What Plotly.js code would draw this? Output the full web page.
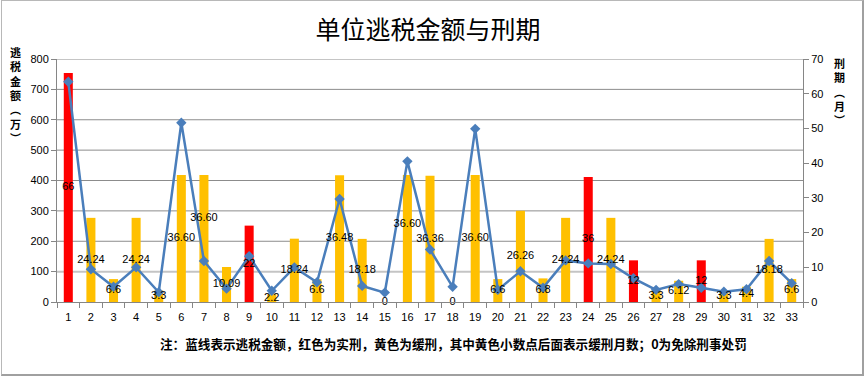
<!DOCTYPE html>
<html>
<head>
<meta charset="utf-8">
<script src="https://cdn.plot.ly/plotly-3.0.1.min.js"></script>
<style>
  html, body { margin: 0; padding: 0; background: #ffffff; }
  #wrap { position: relative; width: 865px; height: 379px; }
  #chart { width: 865px; height: 379px; }
  #frame { position: absolute; left: 1px; top: 0px; width: 860px; height: 373px;
           border-left: 1px solid #b8b8b8; border-top: 1px solid #b8b8b8;
           border-right: 2px solid #a0a0a0; border-bottom: 2px solid #a0a0a0; pointer-events: none; }
</style>
</head>
<body>
<div id="wrap">
  <div id="chart"></div>
  <div id="frame"></div>
</div>
<script>
// ---- data ----
const categories = ['1','2','3','4','5','6','7','8','9','10','11','12','13','14','15','16','17','18','19','20','21','22','23','24','25','26','27','28','29','30','31','32','33'];
// tax evasion amount (万) - blue line, left axis
const taxAmount = [725,108,50,114,32,590,135,44,151,37,114,65,339,53,31,463,173,50,570,40,101,47,137,127,125,78,40,59,47,34,42,135,62];
// sentence (months) - bars, right axis
const sentenceMonths = [66,24.24,6.6,24.24,3.3,36.60,36.60,10.09,22,2.2,18.24,6.6,36.48,18.18,0,36.60,36.36,0,36.60,6.6,26.26,6.8,24.24,36,24.24,12,3.3,6.12,12,3.3,4.4,18.18,6.6];
const sentenceLabels = ['66','24.24','6.6','24.24','3.3','36.60','36.60','10.09','22','2.2','18.24','6.6','36.48','18.18','0','36.60','36.36','0','36.60','6.6','26.26','6.8','24.24','36','24.24','12','3.3','6.12','12','3.3','4.4','18.18','6.6'];
// sentence type: 实 = actual prison (red), 缓 = suspended (yellow), 免 = exempted
const sentenceType = ['实','缓','缓','缓','缓','缓','缓','缓','实','缓','缓','缓','缓','缓','免','缓','缓','免','缓','缓','缓','缓','缓','实','缓','实','缓','缓','实','缓','缓','缓','缓'];
const leftTicks = [0,100,200,300,400,500,600,700,800];
const rightTicks = [0,10,20,30,40,50,60,70];

const typeColor = {'实':'#FF0000','缓':'#FFC000','免':'#FFC000'};

// ---- layout geometry ----
const W = 865, H = 379;
const ml = 57, mr = 62, mt = 59, mb = 77;
const pw = W - ml - mr, ph = H - mt - mb;
const px2x = px => (px - ml) / pw;
const py2y = py => 1 - (py - mt) / ph;
const rightMax = 70;
// label nudges (pixels upward) used in the reference to avoid overlapping labels
const labelNudgePx = {6: 20, 15: 14};

const bars = {
  type: 'bar', x: categories, y: sentenceMonths, yaxis: 'y', xaxis: 'x',
  marker: { color: sentenceType.map(t => typeColor[t]), line: { width: 0 } },
  width: 0.4, hoverinfo: 'skip', showlegend: false
};
const line = {
  type: 'scatter', mode: 'lines+markers', x: categories, y: taxAmount, yaxis: 'y2', xaxis: 'x',
  line: { color: '#4A7EBB', width: 2.5 },
  marker: { symbol: 'diamond', size: 8, color: '#4A7EBB' },
  hoverinfo: 'skip', showlegend: false
};
const labels = {
  type: 'scatter', mode: 'text', x: categories,
  y: sentenceMonths.map((v, i) => v / 2 + (labelNudgePx[i] || 0) * rightMax / ph),
  text: sentenceLabels, yaxis: 'y3', xaxis: 'x',
  textposition: 'middle center',
  textfont: { family: 'Liberation Sans, Arial, sans-serif', size: 11, color: '#000000' },
  hoverinfo: 'skip', showlegend: false, cliponaxis: false
};

const cjkBold = { family: 'Noto Sans CJK SC', size: 11, color: '#000000', weight: 'bold' };
const annotations = [
  { xref: 'paper', yref: 'paper', x: px2x(15), y: py2y(95), xanchor: 'center', yanchor: 'middle',
    showarrow: false, text: Array.from('逃税金额︵万︶').join('<br>'), font: cjkBold },
  { xref: 'paper', yref: 'paper', x: px2x(839), y: py2y(91), xanchor: 'center', yanchor: 'middle',
    showarrow: false, text: Array.from('刑期︵月︶').join('<br>'), font: cjkBold },
  { xref: 'paper', yref: 'paper', x: px2x(453), y: py2y(343), xanchor: 'center', yanchor: 'middle',
    showarrow: false, text: '注：蓝线表示逃税金额，红色为实刑，黄色为缓刑，其中黄色小数点后面表示缓刑月数；0为免除刑事处罚',
    font: { family: 'Noto Sans CJK SC', size: 12.6, color: '#000000', weight: 'bold' } }
];

const shapes = leftTicks.filter(v => v > 0).map(v => ({
  type: 'line', xref: 'paper', yref: 'y2', x0: 0, x1: 1, y0: v, y1: v, layer: 'below',
  line: { color: v === 100 ? '#c4c4c4' : '#8c8c8c', width: v === 100 ? 2 : 1 }
}));

const tickFont = { family: 'Liberation Sans, Arial, sans-serif', size: 11, color: '#000000' };
const layout = {
  width: W, height: H,
  margin: { l: ml, r: mr, t: mt, b: mb, pad: 0 },
  paper_bgcolor: '#ffffff', plot_bgcolor: 'rgba(0,0,0,0)',
  title: { text: '单位逃税金额与刑期', x: px2x(428), xref: 'paper', xanchor: 'center',
           y: 1 - 30 / H, yref: 'container', yanchor: 'middle',
           font: { family: 'Noto Sans CJK SC', size: 25, color: '#000000' } },
  xaxis: { type: 'category', range: [-0.5, categories.length - 0.5], tickson: 'boundaries',
           ticks: 'outside', ticklen: 5, tickcolor: '#868686', showline: true, linecolor: '#868686',
           linewidth: 1, showgrid: false, tickfont: tickFont, ticklabelstandoff: 5,
           fixedrange: true, automargin: false },
  yaxis: { side: 'right', range: [0, rightMax], tickvals: rightTicks, ticks: 'outside', ticklen: 5,
           tickcolor: '#868686', showline: true, linecolor: '#868686', showgrid: false, zeroline: false,
           tickfont: tickFont, fixedrange: true, automargin: false },
  yaxis2: { side: 'left', overlaying: 'y', range: [0, 800], tickvals: leftTicks, ticks: 'outside',
            ticklen: 5, tickcolor: '#868686', showline: true, linecolor: '#868686', showgrid: false,
            zeroline: false, tickfont: tickFont, fixedrange: true, automargin: false },
  yaxis3: { overlaying: 'y', range: [0, rightMax], visible: false, fixedrange: true },
  shapes: shapes,
  annotations: annotations,
  showlegend: false
};

Plotly.newPlot('chart', [bars, line, labels], layout, { displayModeBar: false, staticPlot: true });
</script>
</body>
</html>
